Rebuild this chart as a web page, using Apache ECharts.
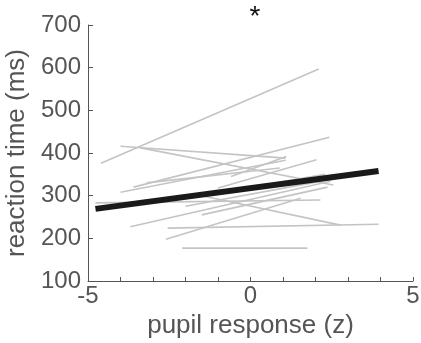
<!DOCTYPE html>
<html>
<head>
<meta charset="utf-8">
<script src="https://cdn.jsdelivr.net/npm/echarts@6/dist/echarts.min.js"></script>
<style>
  html, body { margin: 0; padding: 0; background: #fff; }
  #chart { width: 421px; height: 343px; }
</style>
</head>
<body>
<div id="chart"></div>
<script>
// per-subject regression lines: start / end points
const startX = [-4.6, -4.0, -3.38, -3.6, -4.0, -4.77, -3.7, -2.6, -2.55, -2.1, -1.5, -1.0, -1.5, -3.2, -1.5, -2.0, -0.6];
const startY = [376, 416, 412, 320, 308, 283, 227, 198, 224, 177, 300, 318, 255, 330, 300, 275, 345];
const endX = [2.1, 1.08, 2.55, 2.43, 1.08, 2.15, 2.46, 1.54, 3.94, 1.75, 2.77, 2.03, 2.37, 0.9, 2.3, 2.6, 1.1];
const endY = [597, 388, 325, 437, 383, 290, 334, 294, 233, 177, 231, 384, 320, 365, 350, 340, 392];

// group-level fit
const meanX = [-4.77, 3.94];
const meanY = [269, 358];

const xTicks = [-5, 0, 5];

const chart = echarts.init(document.getElementById("chart"));
const labelFont = "Liberation Sans, Arial, sans-serif";

const series = startX.map((x, i) => ({
  type: "line",
  data: [[x, startY[i]], [endX[i], endY[i]]],
  symbol: "none",
  silent: true,
  lineStyle: { color: "#c4c4c4", width: 1.6 },
}));
series.push({
  type: "line",
  data: meanX.map((x, i) => [x, meanY[i]]),
  symbol: "none",
  silent: true,
  z: 5,
  lineStyle: { color: "#1a1a1a", width: 6 },
});

chart.setOption({
  animation: false,
  title: {
    text: "*",
    left: 250,
    top: -2,
    textAlign: "center",
    textStyle: { fontSize: 28, fontWeight: "normal", color: "#111", fontFamily: labelFont },
  },
  grid: { left: 88, right: 8, top: 25, bottom: 62, outerBoundsMode: "none" },
  xAxis: {
    type: "value",
    min: -5,
    max: 5,
    interval: 1,
    name: "pupil response (z)",
    nameLocation: "middle",
    nameGap: 28,
    nameTextStyle: { fontSize: 26, color: "#555", fontFamily: labelFont },
    axisLine: { onZero: false, lineStyle: { color: "#555", width: 1 } },
    axisTick: { inside: true, length: 4, lineStyle: { color: "#555" } },
    axisLabel: {
      fontSize: 24,
      color: "#555",
      fontFamily: labelFont,
      margin: 3,
      formatter: (v) => (xTicks.includes(v) ? String(v) : ""),
    },
    splitLine: { show: false },
  },
  yAxis: {
    type: "value",
    min: 100,
    max: 700,
    interval: 100,
    name: "reaction time (ms)",
    nameLocation: "middle",
    nameGap: 58,
    nameTextStyle: { fontSize: 26, color: "#555", fontFamily: labelFont },
    axisLine: { show: true, onZero: false, lineStyle: { color: "#555", width: 1 } },
    axisTick: { show: true, inside: true, length: 5, lineStyle: { color: "#555" } },
    axisLabel: { fontSize: 24, color: "#555", fontFamily: labelFont, margin: 7 },
    splitLine: { show: false },
  },
  series: series,
});
</script>
</body>
</html>
